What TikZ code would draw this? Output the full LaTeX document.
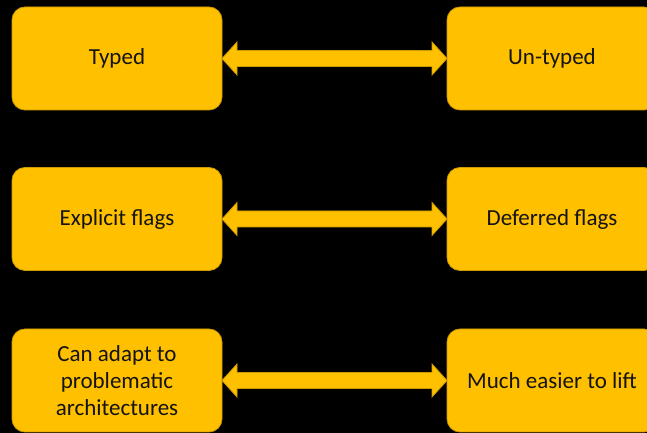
\documentclass[tikz,border=0pt]{standalone}
\usepackage{fontspec}
\setmainfont{Carlito}
\usetikzlibrary{calc}
\definecolor{gold}{RGB}{255,192,0}
\definecolor{goldedge}{RGB}{205,155,0}
\definecolor{ink}{RGB}{20,20,20}
\tikzset{
  x=1pt, y=1pt,
  card/.style={rectangle, rounded corners=13pt, fill=gold, draw=goldedge,
    line width=0.8pt, minimum width=210pt, minimum height=103pt,
    outer sep=0pt, inner sep=4pt, text=ink, align=center,
    font=\fontsize{23}{27}\selectfont},
  twoway/.style={fill=gold, draw=goldedge, line width=0.8pt, line join=miter}
}
% double-headed block arrow from the east side of #1 to the west side of #2
\newcommand\linkboth[2]{%
  \path[twoway] (#1.east) -- ++(15,16.5) -- ++(0,-8.5)
    -- ($(#2.west)+(-15,8)$) -- ++(0,8.5) -- (#2.west)
    -- ++(-15,-16.5) -- ++(0,8.5)
    -- ($(#1.east)+(15,-8)$) -- ++(0,-8.5) -- cycle;}
\begin{document}
\begin{tikzpicture}
  \useasboundingbox (0,0) rectangle (647,433);
  \clip (0,0) rectangle (647,433);
  \fill[black] (0,0) rectangle (647,433);

  \node[card] (typed)    at (117,374.5) {Typed};
  \node[card] (untyped)  at (552,374.5) {Un-typed};
  \node[card] (explicit) at (117,214)   {Explicit flags};
  \node[card] (deferred) at (552,214)   {Deferred flags};
  \node[card] (adapt)    at (117,52.5)  {Can adapt to\\problematic\\architectures};
  \node[card] (lift)     at (552,52.5)  {Much easier to lift};

  \linkboth{typed}{untyped}
  \linkboth{explicit}{deferred}
  \linkboth{adapt}{lift}
\end{tikzpicture}
\end{document}
